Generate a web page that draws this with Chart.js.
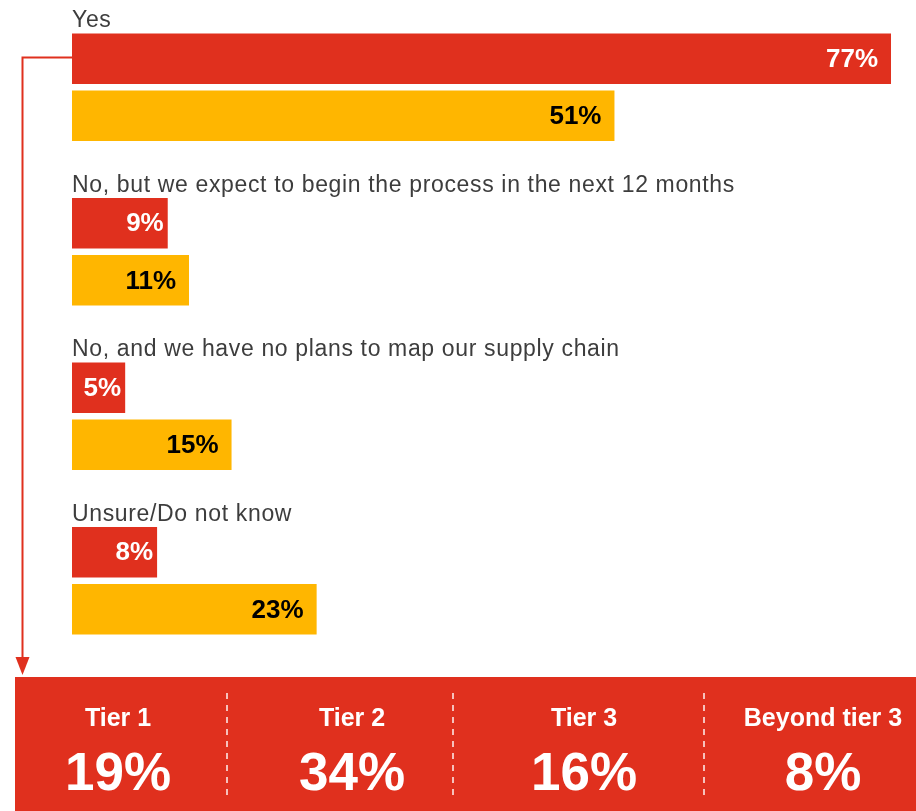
<!DOCTYPE html>
<html>
<head>
<meta charset="utf-8">
<script src="https://cdn.jsdelivr.net/npm/chart.js@4/dist/chart.umd.min.js"></script>
<style>
html,body{margin:0;padding:0;background:#fff;overflow:hidden;}
#c{display:block;}
</style>
</head>
<body>
<canvas id="c" width="916" height="811"></canvas>
<script>
const categories = [
  "Yes",
  "No, but we expect to begin the process in the next 12 months",
  "No, and we have no plans to map our supply chain",
  "Unsure/Do not know"
];
const seriesRed = [77, 9, 5, 8];
const seriesYellow = [51, 11, 15, 23];
const tierLabels = ["Tier 1", "Tier 2", "Tier 3", "Beyond tier 3"];
const tierValues = [19, 34, 16, 8];

const RED = "#E0301E";
const YELLOW = "#FFB600";
const FONT = '"Liberation Sans", Arial, Helvetica, sans-serif';

const overlay = {
  id: "overlay",
  afterDatasetsDraw(chart) {
    const ctx = chart.ctx;
    const m0 = chart.getDatasetMeta(0);
    const m1 = chart.getDatasetMeta(1);
    ctx.save();
    // category labels
    ctx.font = "23px " + FONT;
    if ("letterSpacing" in ctx) ctx.letterSpacing = "0.65px";
    ctx.fillStyle = "#3d3d3d";
    ctx.textAlign = "left";
    ctx.textBaseline = "alphabetic";
    categories.forEach((c, i) => {
      const bar = m0.data[i];
      const top = bar.y - bar.height / 2;
      ctx.fillText(c, chart.chartArea.left, top - 6);
    });
    if ("letterSpacing" in ctx) ctx.letterSpacing = "0px";
    // value labels
    ctx.font = "bold 26px " + FONT;
    ctx.textAlign = "right";
    ctx.textBaseline = "middle";
    [[m0, seriesRed, "#ffffff"], [m1, seriesYellow, "#000000"]].forEach(([meta, vals, col]) => {
      meta.data.forEach((bar, i) => {
        const pad = vals[i] >= 10 ? 13 : 4;
        ctx.fillStyle = col;
        ctx.fillText(vals[i] + "%", bar.x - pad, bar.y + 1);
      });
    });
    // arrow
    const b0 = m0.data[0];
    const ax = 22.5;
    const ay = Math.round(b0.y) - 1.5;
    ctx.strokeStyle = RED;
    ctx.lineWidth = 2;
    ctx.beginPath();
    ctx.moveTo(b0.base, ay);
    ctx.lineTo(ax - 1, ay);
    ctx.moveTo(ax, ay - 1);
    ctx.lineTo(ax, 660);
    ctx.stroke();
    ctx.fillStyle = RED;
    ctx.beginPath();
    ctx.moveTo(ax - 7, 657);
    ctx.lineTo(ax + 7, 657);
    ctx.lineTo(ax, 675);
    ctx.closePath();
    ctx.fill();
    // bottom box
    ctx.fillStyle = RED;
    ctx.fillRect(15, 677, 901, 134);
    ctx.strokeStyle = "rgba(255,255,255,0.7)";
    ctx.lineWidth = 2;
    ctx.setLineDash([6, 6]);
    [227, 453, 704].forEach(x => {
      ctx.beginPath();
      ctx.moveTo(x, 693);
      ctx.lineTo(x, 799);
      ctx.stroke();
    });
    ctx.setLineDash([]);
    const centers = [118, 352, 584, 823];
    ctx.fillStyle = "#ffffff";
    ctx.textAlign = "center";
    ctx.textBaseline = "alphabetic";
    tierLabels.forEach((t, i) => {
      ctx.font = "bold 25px " + FONT;
      ctx.fillText(t, centers[i], 726);
      ctx.font = "bold 53px " + FONT;
      ctx.fillText(tierValues[i] + "%", centers[i], 790);
    });
    ctx.restore();
  }
};

new Chart(document.getElementById("c"), {
  type: "bar",
  data: {
    labels: categories,
    datasets: [
      { data: seriesRed, backgroundColor: RED, borderWidth: 0 },
      { data: seriesYellow, backgroundColor: YELLOW, borderWidth: 0 }
    ]
  },
  options: {
    indexAxis: "y",
    responsive: false,
    animation: false,
    devicePixelRatio: 1,
    categoryPercentage: 0.695,
    barPercentage: 0.883,
    layout: { padding: { left: 72, right: 0, top: 5, bottom: 148 } },
    scales: {
      x: { display: false, min: 0, max: 79.35 },
      y: { display: false }
    },
    plugins: { legend: { display: false }, tooltip: { enabled: false } }
  },
  plugins: [overlay]
});
</script>
</body>
</html>
